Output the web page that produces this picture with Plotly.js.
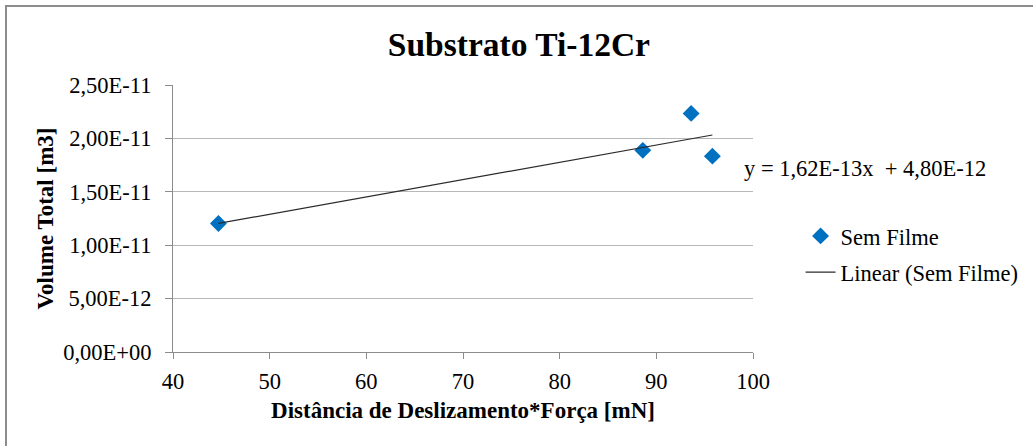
<!DOCTYPE html>
<html>
<head>
<meta charset="utf-8">
<script src="https://cdn.plot.ly/plotly-3.0.1.min.js"></script>
<style>
html,body{margin:0;padding:0;background:#fff;overflow:hidden;width:1033px;height:446px;}
#frame{position:absolute;left:5px;top:5px;width:1100px;height:500px;border-left:2px solid #8c8c8c;border-top:2px solid #8c8c8c;pointer-events:none;z-index:5;}
#chart{position:absolute;left:0;top:0;width:1033px;height:446px;}
</style>
</head>
<body>
<div id="chart"></div>
<div id="frame"></div>
<script>
// Data
const seriesName = "Sem Filme";
const xValues = [44.7, 88.6, 93.6, 95.8];
const yValues = [1.203e-11, 1.888e-11, 2.234e-11, 1.834e-11];

// Trendline coefficients (from displayed equation)
const trendSlope = 1.62e-13;
const trendIntercept = 4.80e-12;
const trendName = "Linear (Sem Filme)";
const equationText = "y = 1,62E-13x  + 4,80E-12";

// Axis ticks
const yTickVals = [0, 5e-12, 1e-11, 1.5e-11, 2e-11, 2.5e-11];
const yTickText = ["0,00E+00", "5,00E-12", "1,00E-11", "1,50E-11", "2,00E-11", "2,50E-11"];
const xTickVals = [40, 50, 60, 70, 80, 90, 100];

const chartTitle = "Substrato Ti-12Cr";
const xTitle = "Distância de Deslizamento*Força [mN]";
const yTitle = "Volume Total [m3]";

const xMin = Math.min(...xValues), xMax = Math.max(...xValues);
const trendX = [xMin, xMax];
const trendY = trendX.map(v => trendSlope * v + trendIntercept);

const serif = "Liberation Serif";
const fs = 22.5;

const traces = [
  {
    x: xValues, y: yValues, type: "scatter", mode: "markers", name: seriesName,
    legendgroup: "a",
    marker: {symbol: "diamond", size: 13, color: "#0070C0"}
  },
  {
    x: trendX, y: trendY, type: "scatter", mode: "lines", name: trendName,
    legendgroup: "b",
    line: {color: "#2b2b2b", width: 1.2}
  }
];

const layout = {
  width: 1033, height: 446,
  margin: {l: 173, r: 280, t: 85, b: 94, pad: 0, autoexpand: false},
  paper_bgcolor: "#ffffff", plot_bgcolor: "#ffffff",
  font: {family: serif, size: fs, color: "#000"},
  title: {
    text: "<b>" + chartTitle + "</b>",
    font: {family: serif, size: 33.5, color: "#000"},
    x: 0.5023, xanchor: "center", y: 0.9, yanchor: "middle", yref: "container"
  },
  showlegend: true,
  legend: {
    x: 1.082, y: 0.514, xanchor: "left", yanchor: "top",
    font: {family: serif, size: fs, color: "#000"},
    bgcolor: "rgba(0,0,0,0)", borderwidth: 0, tracegroupgap: 4,
    itemwidth: 30
  },
  xaxis: {
    range: [40, 100], tickvals: xTickVals, ticktext: xTickVals.map(String),
    showgrid: false, zeroline: false,
    showline: true, linecolor: "#8c8c8c", linewidth: 1,
    ticks: "outside", ticklen: 6, tickcolor: "#8c8c8c", tickwidth: 1,
    tickfont: {family: serif, size: fs, color: "#000"},
    ticklabelstandoff: 3,
    title: {text: "<b>" + xTitle + "</b>", font: {family: serif, size: 23, color: "#000"}, standoff: 8},
    fixedrange: true
  },
  yaxis: {
    range: [0, 2.5e-11], tickvals: yTickVals, ticktext: yTickText,
    showgrid: true, gridcolor: "#b8b8b8", gridwidth: 1.3,
    zeroline: false,
    showline: true, linecolor: "#8c8c8c", linewidth: 1,
    ticks: "outside", ticklen: 7, tickcolor: "#8c8c8c", tickwidth: 1,
    tickfont: {family: serif, size: fs, color: "#000"},
    ticklabelstandoff: 9,
    title: {text: "<b>" + yTitle + "</b>", font: {family: serif, size: 23, color: "#000"}, standoff: 3},
    fixedrange: true
  },
  annotations: [
    {
      text: equationText, xref: "paper", yref: "paper",
      x: 0.981, y: 0.689, xanchor: "left", yanchor: "middle",
      showarrow: false, font: {family: serif, size: fs, color: "#000"}
    }
  ]
};

Plotly.newPlot("chart", traces, layout, {displayModeBar: false, staticPlot: true});
</script>
</body>
</html>
